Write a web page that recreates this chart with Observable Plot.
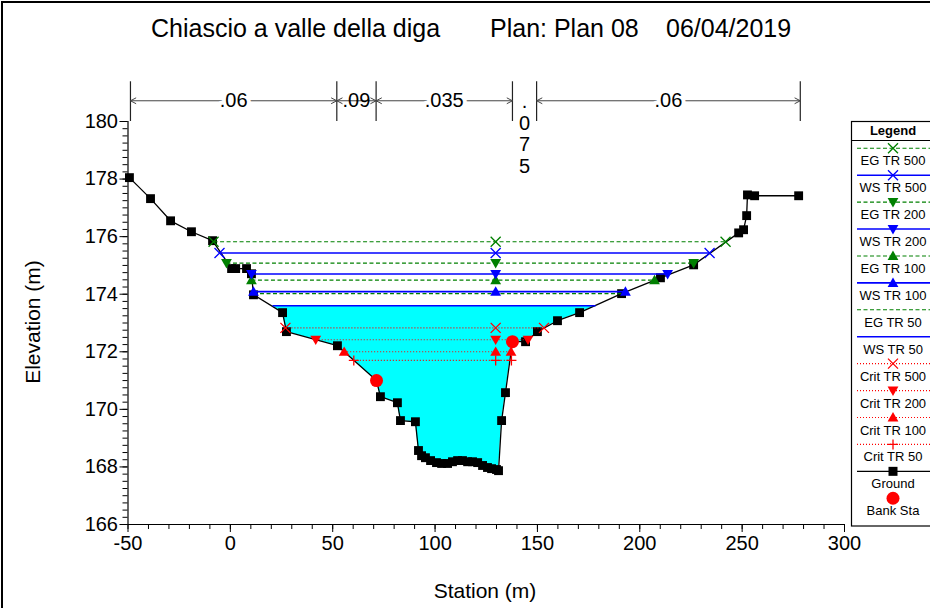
<!DOCTYPE html>
<html>
<head>
<meta charset="utf-8">
<script src="https://cdn.jsdelivr.net/npm/d3@7"></script>
<script src="https://cdn.jsdelivr.net/npm/@observablehq/plot@0.6"></script>
<style>
  html, body { margin: 0; padding: 0; background: white; }
  body { width: 930px; height: 608px; position: relative; overflow: hidden; font-family: 'Liberation Sans', Arial, Helvetica, sans-serif; }
  #chart { position: absolute; left: 0; top: 0; }
  #overlay { position: absolute; left: 0; top: 0; pointer-events: none; }
  .t { position: absolute; color: black; white-space: nowrap; }
</style>
</head>
<body>
<div class="t" style="left:151px;top:14px;font-size:25px;">Chiascio a valle della diga</div>
<div class="t" style="left:490px;top:14px;font-size:25px;">Plan: Plan 08</div>
<div class="t" style="left:666px;top:14px;font-size:25px;">06/04/2019</div>
<div id="chart"></div>
<div class="t" style="left:485px;top:579px;font-size:21px;transform:translateX(-50%);">Station (m)</div>
<div class="t" style="left:33px;top:322px;font-size:21px;transform:translate(-50%,-50%) rotate(-90deg);">Elevation (m)</div>
<svg id="overlay" width="930" height="608"></svg>
<script>
// ---------------- DATA ----------------
const groundX = [-49.3, -39.0, -29.2, -19.0, -8.7, 0.6, 2.6, 7.9, 10.3, 11.3, 25.5, 27.4, 52.3, 71.4, 73.3, 81.6, 83.1, 90.4,
  91.9, 93.4, 95.3, 97.8, 100.7, 103.2, 106.1, 108.5, 111.0, 113.4, 115.9, 118.3, 120.8, 123.2, 125.6, 127.6, 130.0, 131.0,
  132.5, 134.4, 137.8, 144.2, 150.0, 159.8, 170.6, 191.1, 210.1, 226.3, 248.3, 250.7, 252.2, 252.6, 256.1, 277.6];
const groundY = [178.05, 177.32, 176.55, 176.17, 175.86, 174.89, 174.89, 174.89, 174.71, 173.98, 173.36, 172.70, 172.21, 171.00, 170.44, 170.23, 169.61, 169.57,
  168.57, 168.39, 168.32, 168.22, 168.15, 168.12, 168.12, 168.18, 168.22, 168.22, 168.18, 168.18, 168.15, 168.05, 167.98, 167.94, 167.91, 167.87,
  169.61, 170.58, 172.35, 172.35, 172.70, 173.08, 173.36, 174.02, 174.57, 175.02, 176.13, 176.24, 176.73, 177.45, 177.42, 177.42];

const bankX = [71.4, 137.8];
const bankY = [171.00, 172.35];

const profiles = ["TR 500", "TR 200", "TR 100", "TR 50"];
const egElev = [175.82, 175.08, 174.49, 174.02];
const egLeft = [-8.2, -1.9, 10.3, 11.3];
const egRight = [241.9, 226.3, 207.2, 190.8];
const wsElev = [175.43, 174.70, 174.09, 173.60];
const wsLeft = [-5.3, 10.3, 11.3, 20.6];
const wsRight = [234.1, 213.6, 193.0, 178.4];
const critElev = [172.83, 172.42, 172.00, 171.70];
const critLeft = [26.9, 41.7, 55.6, 60.3];
const critRight = [153.2, 145.4, 137.1, 137.3];
const markerStation = 129.6;

const nBounds = [-48.8, 52.0, 71.2, 137.8, 149.6, 278.4];
const nValues = [".06", ".09", ".035", ".075", ".06"];

const xTicks = [-50, 0, 50, 100, 150, 200, 250, 300];
const yTicks = [166, 168, 170, 172, 174, 176, 178, 180];

const legendLabels = ["EG TR 500", "WS TR 500", "EG TR 200", "WS TR 200", "EG TR 100", "WS TR 100", "EG TR 50", "WS TR 50",
  "Crit TR 500", "Crit TR 200", "Crit TR 100", "Crit TR 50", "Ground", "Bank Sta"];

// ---------------- STYLES ----------------
const FONT = "'Liberation Sans', Arial, Helvetica, sans-serif";
const GREEN = "#008000", BLUE = "#0000FF", RED = "#FF0000", CYAN = "#00FFFF";
const mk = fn => ({draw(ctx, size) { const r = Math.sqrt(size / Math.PI); fn(ctx, r); }});
const SYM = {
  times: mk((c, r) => { c.moveTo(-r, -r); c.lineTo(r, r); c.moveTo(-r, r); c.lineTo(r, -r); }),
  plus: mk((c, r) => { c.moveTo(-r, 0); c.lineTo(r, 0); c.moveTo(0, -r); c.lineTo(0, r); }),
  up: mk((c, r) => { c.moveTo(0, -r); c.lineTo(r, r * 0.75); c.lineTo(-r, r * 0.75); c.closePath(); }),
  down: mk((c, r) => { c.moveTo(0, r); c.lineTo(r, -r * 0.75); c.lineTo(-r, -r * 0.75); c.closePath(); })
};
const profSym = ["times", "down", "up", null];
const critSym = ["times", "down", "up", "plus"];
const families = [
  {key: "EG", elev: egElev, left: egLeft, right: egRight, color: GREEN, dash: "4,2.5", width: 1.1, syms: profSym},
  {key: "WS", elev: wsElev, left: wsLeft, right: wsRight, color: BLUE, dash: null, width: 1.6, syms: profSym},
  {key: "Crit", elev: critElev, left: critLeft, right: critRight, color: RED, dash: "1,2", width: 1.1, syms: critSym}
];

// ---------------- DERIVED TABLES ----------------
const ground = groundX.map((x, i) => ({x, y: groundY[i]}));
const wsLevel = wsElev[3];
const fillData = [{x: wsLeft[3], y: wsLevel}]
  .concat(ground.filter(d => d.x > wsLeft[3] && d.x < wsRight[3]))
  .concat([{x: wsRight[3], y: wsLevel}]);

const marks = [];
marks.push(Plot.areaY(fillData, {x: "x", y1: "y", y2: () => wsLevel, fill: CYAN, curve: "linear"}));
marks.push(Plot.line(ground, {x: "x", y: "y", stroke: "black", strokeWidth: 1.3}));
marks.push(Plot.dot(ground, {x: "x", y: "y", symbol: "square", r: 5, fill: "black", stroke: "none"}));

for (const f of families) {
  const rows = profiles.map((p, i) => ({p, y: f.elev[i], x1: f.left[i], x2: f.right[i]}));
  marks.push(Plot.link(rows, {x1: "x1", x2: "x2", y1: "y", y2: "y", stroke: f.color, strokeWidth: f.width,
    strokeDasharray: f.dash || undefined}));
}
for (const f of families) {
  profiles.forEach((p, i) => {
    const s = f.syms[i];
    if (!s) return;
    const pts = [f.left[i], markerStation, f.right[i]].map(x => ({x, y: f.elev[i]}));
    const filled = s === "up" || s === "down";
    marks.push(Plot.dot(pts, {x: "x", y: "y", symbol: SYM[s], r: filled ? 5.4 : 5,
      fill: filled ? f.color : "none", stroke: filled ? "none" : f.color, strokeWidth: 1.3}));
  });
}
marks.push(Plot.dot(bankX.map((x, i) => ({x, y: bankY[i]})), {x: "x", y: "y", r: 6.5, fill: RED, stroke: "none"}));

// Manning's n annotation
const nRows = nValues.map((v, i) => ({label: v, x0: nBounds[i], x1: nBounds[i + 1], mid: (nBounds[i] + nBounds[i + 1]) / 2}));
const wide = nRows.filter(d => d.x1 - d.x0 > 40);
const medium = nRows.filter(d => d.x1 - d.x0 >= 15 && d.x1 - d.x0 <= 40);
const narrow = nRows.filter(d => d.x1 - d.x0 < 15);
const arrowed = wide.concat(medium);
const arrowRows = arrowed.flatMap(d => [{a: d.mid, b: d.x0}, {a: d.mid, b: d.x1}]);
marks.push(Plot.ruleX(nBounds, {y1: 181.38, y2: 180.0, stroke: "#222", strokeWidth: 1.2}));
marks.push(Plot.arrow(arrowRows, {x1: "a", x2: "b", y1: () => 180.72, y2: () => 180.72, stroke: "#444", strokeWidth: 1, headLength: 9, headAngle: 55}));
marks.push(Plot.text(wide, {x: "mid", y: () => 180.72, text: "label", fontSize: 20, fill: "black", stroke: "white", strokeWidth: 8, paintOrder: "stroke"}));
marks.push(Plot.text(medium, {x: "mid", y: () => 180.72, text: "label", fontSize: 20, fill: "black"}));
marks.push(Plot.text(narrow, {x: "mid", y: () => 179.58, text: d => d.label.split("").join("\n"), fontSize: 20, lineHeight: 1.075, lineAnchor: "middle", fill: "black"}));

// axes
const plain = d => `${d}`;
marks.push(Plot.axisY(d3.range(166, 180.001, 0.25), {tickSize: 5, tickFormat: () => "", label: null, stroke: "black"}));
marks.push(Plot.axisY(yTicks, {tickSize: 8, tickPadding: 2, fontSize: 20, tickFormat: plain, label: null, stroke: "black", fill: "black"}));
marks.push(Plot.axisX(d3.range(-50, 300.001, 10), {tickSize: 5, tickFormat: () => "", label: null, stroke: "black"}));
marks.push(Plot.axisX(xTicks, {tickSize: 8, tickPadding: 3, fontSize: 20, tickFormat: plain, label: null, stroke: "black", fill: "black"}));
marks.push(Plot.ruleX([-50], {stroke: "black", strokeWidth: 1.2}));
marks.push(Plot.ruleY([166], {stroke: "black", strokeWidth: 1.2}));

const chart = Plot.plot({
  width: 930, height: 608,
  marginLeft: 127.5, marginRight: 86, marginTop: 121, marginBottom: 84,
  x: {domain: [-50, 300], axis: null},
  y: {domain: [166, 180], axis: null},
  style: {fontFamily: FONT, fontSize: "20px", color: "black", background: "transparent", overflow: "visible"},
  marks
});
document.getElementById("chart").appendChild(chart);

// ---------------- LEGEND + FRAME (overlay) ----------------
const svg = d3.select("#overlay");
svg.append("path").attr("d", "M2,608V2H930").attr("fill", "none").attr("stroke", "black").attr("stroke-width", 2);
const lx = 851.5, ly = 121.5, lb = 526;
svg.append("rect").attr("x", lx).attr("y", ly).attr("width", 120).attr("height", lb - ly)
  .attr("fill", "white").attr("stroke", "black").attr("stroke-width", 1.2);
svg.append("text").attr("x", 893).attr("y", 135).attr("text-anchor", "middle")
  .attr("font-family", FONT).attr("font-size", 13).attr("font-weight", "bold").text("Legend");
svg.append("line").attr("x1", lx).attr("x2", 930).attr("y1", 140.5).attr("y2", 140.5).attr("stroke", "black");

const legendStyle = [];
profiles.forEach((p, i) => {
  legendStyle.push({fam: families[0], sym: profSym[i]});
  legendStyle.push({fam: families[1], sym: profSym[i]});
});
profiles.forEach((p, i) => legendStyle.push({fam: families[2], sym: critSym[i]}));
legendStyle.push({ground: true});
legendStyle.push({bank: true});

legendLabels.forEach((label, i) => {
  const y = 148.3 + i * 26.92;
  const st = legendStyle[i];
  const cx = 893;
  if (st.bank) {
    svg.append("circle").attr("cx", cx).attr("cy", y).attr("r", 6.5).attr("fill", RED);
  } else if (st.ground) {
    svg.append("line").attr("x1", 857).attr("x2", 930).attr("y1", y).attr("y2", y).attr("stroke", "black").attr("stroke-width", 1.3);
    svg.append("rect").attr("x", cx - 4.5).attr("y", y - 4.5).attr("width", 9).attr("height", 9).attr("fill", "black");
  } else {
    const f = st.fam;
    const ln = svg.append("line").attr("x1", 857).attr("x2", 930).attr("y1", y).attr("y2", y)
      .attr("stroke", f.color).attr("stroke-width", f.width);
    if (f.dash) ln.attr("stroke-dasharray", f.dash);
    if (st.sym) {
      const filled = st.sym === "up" || st.sym === "down";
      const r = filled ? 5.4 : 5;
      const p = d3.path();
      SYM[st.sym].draw(p, Math.PI * r * r);
      svg.append("path").attr("d", p.toString()).attr("transform", `translate(${cx},${y})`)
        .attr("fill", filled ? f.color : "none").attr("stroke", filled ? "none" : f.color).attr("stroke-width", 1.3);
    }
  }
  svg.append("text").attr("x", cx).attr("y", y + 17).attr("text-anchor", "middle")
    .attr("font-family", FONT).attr("font-size", 13).attr("fill", "black").text(label);
});
</script>
</body>
</html>
